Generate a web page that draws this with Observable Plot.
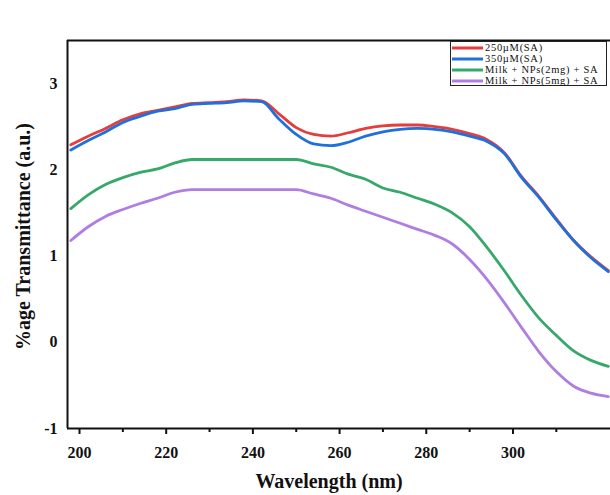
<!DOCTYPE html>
<html>
<head>
<meta charset="utf-8">
<script src="https://cdn.jsdelivr.net/npm/d3@7"></script>
<script src="https://cdn.jsdelivr.net/npm/@observablehq/plot@0.6"></script>
<style>
  html, body { margin: 0; padding: 0; background: #fff; }
  #wrap { position: relative; width: 610px; height: 495px; overflow: hidden; }
  #legend { position: absolute; background: #fff; border: 1px solid #222; box-sizing: border-box;
            font-family: "Liberation Serif", "Times New Roman", serif; font-size: 10.5px; letter-spacing: 0.7px; color: #111; }
  #legend .row { display: flex; align-items: center; white-space: nowrap; line-height: 10px; }
  #legend svg { flex: none; margin-right: 2px; }
</style>
</head>
<body>
<div id="wrap"></div>
<script>
const seriesNames = ["250\u00b5M(SA)", "350\u00b5M(SA)", "Milk + NPs(2mg) + SA", "Milk + NPs(5mg) + SA"];
const seriesColors = ["#e63c3c", "#1f6fdc", "#36a86a", "#b07de0"];

const wavelengths = [198, 202, 206, 210, 214, 218, 222, 226, 230, 234, 238, 242, 246, 250, 254, 258,
                     262, 266, 270, 274, 278, 282, 286, 290, 294, 298, 302, 306, 310, 314, 318, 322];
const sa250 = [2.29, 2.39, 2.48, 2.58, 2.65, 2.69, 2.73, 2.77, 2.78, 2.79, 2.81, 2.80, 2.65, 2.49, 2.41, 2.39,
               2.43, 2.48, 2.51, 2.52, 2.52, 2.50, 2.47, 2.42, 2.35, 2.20, 1.92, 1.69, 1.43, 1.18, 0.99, 0.83];
const sa350 = [2.23, 2.34, 2.44, 2.55, 2.62, 2.68, 2.71, 2.76, 2.77, 2.78, 2.80, 2.79, 2.59, 2.41, 2.30, 2.28,
               2.32, 2.39, 2.44, 2.47, 2.48, 2.47, 2.44, 2.39, 2.33, 2.19, 1.91, 1.68, 1.42, 1.18, 0.98, 0.82];
const np2 = [1.55, 1.71, 1.83, 1.91, 1.97, 2.01, 2.08, 2.12, 2.12, 2.12, 2.12, 2.12, 2.12, 2.12, 2.07, 2.03,
             1.95, 1.89, 1.79, 1.74, 1.67, 1.60, 1.50, 1.34, 1.10, 0.83, 0.54, 0.28, 0.08, -0.10, -0.21, -0.28];
const np5 = [1.18, 1.34, 1.46, 1.54, 1.61, 1.67, 1.74, 1.77, 1.77, 1.77, 1.77, 1.77, 1.77, 1.77, 1.72, 1.67,
             1.59, 1.52, 1.45, 1.38, 1.31, 1.24, 1.14, 0.96, 0.73, 0.46, 0.17, -0.11, -0.34, -0.51, -0.59, -0.63];

const xTicks = [200, 220, 240, 260, 280, 300];
const xMinorTicks = [210, 230, 250, 270, 290, 310];
const yTicks = [-1, 0, 1, 2, 3];
const xDomain = [197.23, 322.5];
const yDomain = [-1, 3.5];
const xLabel = "Wavelength (nm)";
const yLabel = "%age Transmittance (a.u.)";

const allSeries = [sa250, sa350, np2, np5];
const data = [];
allSeries.forEach((vals, i) => {
  vals.forEach((v, j) => data.push({series: seriesNames[i], wl: wavelengths[j], t: v}));
});

const W = 610, H = 495, mL = 67, mR = 0, mT = 40, mB = 67;

const chart = Plot.plot({
  width: W, height: H,
  marginLeft: mL, marginRight: mR, marginTop: mT, marginBottom: mB,
  x: {domain: xDomain},
  y: {domain: yDomain},
  color: {domain: seriesNames, range: seriesColors},
  style: {fontFamily: "'Liberation Serif', 'Times New Roman', serif", fontWeight: "bold", fontSize: "16px", color: "#111", background: "#fff"},
  marks: [
    Plot.line(data, {x: "wl", y: "t", z: "series", stroke: "series", strokeWidth: 2.8, curve: "monotone-x", clip: true}),
    Plot.axisX({ticks: xTicks, tickSize: 6, tickPadding: 12, tickFormat: d => String(d), label: null, strokeWidth: 2, fontSize: 16, fontWeight: "bold"}),
    Plot.axisX({ticks: xMinorTicks, tickSize: 4, tickFormat: () => "", label: null, strokeWidth: 2}),
    Plot.axisY({ticks: yTicks, tickSize: 0, tickPadding: 10, tickFormat: d => String(d), label: null, fontSize: 16, fontWeight: "bold"}),
    Plot.ruleX([xDomain[0]], {strokeWidth: 2, stroke: "#111"}),
    Plot.ruleY([yDomain[0], yDomain[1]], {strokeWidth: 2, stroke: "#111"}),
    Plot.text([xLabel], {text: d => d, frameAnchor: "bottom", textAnchor: "middle", dx: -10, dy: 53, fontSize: 20, fontWeight: "bold", lineAnchor: "middle"}),
    Plot.text([yLabel], {text: d => d, frameAnchor: "left", textAnchor: "middle", dx: -44, dy: 2, rotate: -90, fontSize: 20, fontWeight: "bold", lineAnchor: "middle"})
  ]
});

const wrap = document.getElementById("wrap");
wrap.appendChild(chart);

// legend box
const legend = document.createElement("div");
legend.id = "legend";
Object.assign(legend.style, {left: "450px", top: "41px", width: "157px", height: "45px", padding: "0 0 0 1px"});
seriesNames.forEach((name, i) => {
  const row = document.createElement("div");
  row.className = "row";
  row.style.height = "11px";
  const sw = document.createElementNS("http://www.w3.org/2000/svg", "svg");
  sw.setAttribute("width", "31"); sw.setAttribute("height", "10");
  const ln = document.createElementNS("http://www.w3.org/2000/svg", "line");
  ln.setAttribute("x1", "0"); ln.setAttribute("x2", "31");
  ln.setAttribute("y1", "5"); ln.setAttribute("y2", "5");
  ln.setAttribute("stroke", seriesColors[i]); ln.setAttribute("stroke-width", "3");
  sw.appendChild(ln);
  const tx = document.createElement("span");
  tx.textContent = name;
  row.appendChild(sw); row.appendChild(tx);
  legend.appendChild(row);
});
wrap.appendChild(legend);
</script>
</body>
</html>
